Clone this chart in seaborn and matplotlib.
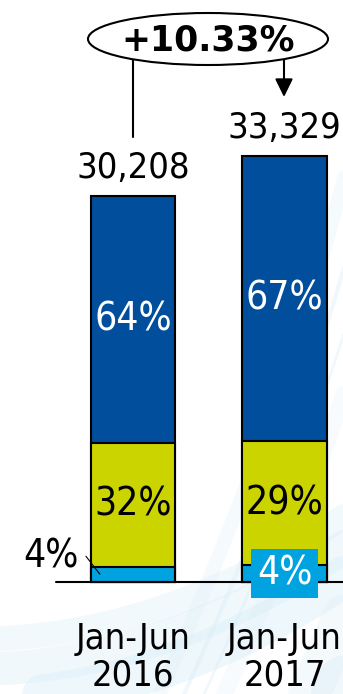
import numpy as np
import pandas as pd
import seaborn as sns
import matplotlib.pyplot as plt
from matplotlib.patches import Ellipse

# Half-year totals and their composition (shares in %)
periods = ["Jan-Jun\n2016", "Jan-Jun\n2017"]
totals = [30208, 33329]
share_blue = [64, 67]
share_yellow = [32, 29]
share_cyan = [4, 4]
growth_label = "+10.33%"

BLUE = "#004E9C"
YELLOW = "#CCD400"
CYAN = "#00A3E0"

sns.set_theme(style="white")
plt.rcParams["font.family"] = ["DejaVu Sans"]

df = pd.DataFrame({
    "period": periods,
    "total": totals,
    "blue": share_blue,
    "yellow": share_yellow,
    "cyan": share_cyan,
})
df["cyan_top"] = df["total"] * df["cyan"] / 100
df["yellow_top"] = df["total"] * (df["cyan"] + df["yellow"]) / 100

W, H = 343, 694
fig = plt.figure(figsize=(W / 100, H / 100), dpi=100)
fig.patch.set_facecolor("white")

# Pixel-space layer for the soft background sweeps
ov = fig.add_axes([0, 0, 1, 1], zorder=0)
ov.set_xlim(0, W)
ov.set_ylim(H, 0)
ov.axis("off")

t = np.linspace(0, 1, 200)
for x0, lw, a in [(150, 10, 0.2), (175, 3, 0.3), (195, 2, 0.3),
                  (215, 12, 0.15), (300, 30, 0.22), (330, 40, 0.28)]:
    xs = x0 + 260 * t - 60 * t ** 2
    ys = H + 20 - 560 * t
    ov.plot(xs, ys, color="#CFE8F5", lw=lw, alpha=a, solid_capstyle="round")
for y0, lw, a in [(640, 18, 0.3), (670, 24, 0.35), (700, 30, 0.4)]:
    xs = np.linspace(-10, W + 10, 200)
    ys = y0 - 0.0009 * (xs - 40) ** 2 - 40 * (xs / W)
    ov.plot(xs, ys, color="#D6ECF7", lw=lw, alpha=a)

ax = fig.add_axes([0, 0, 1, 1], zorder=1)
ax.patch.set_alpha(0)

bar_w = 0.555
edge = dict(edgecolor="black", linewidth=1.5, width=bar_w)
sns.barplot(data=df, x="period", y="total", color=BLUE, saturation=1, ax=ax, **edge)
sns.barplot(data=df, x="period", y="yellow_top", color=YELLOW, saturation=1, ax=ax, **edge)
sns.barplot(data=df, x="period", y="cyan_top", color=CYAN, saturation=1, ax=ax, **edge)

px = 151.5                      # pixels per category step
ypx = totals[0] / 386.0         # data units per pixel
ax.set_xlim(-133 / px, (W - 133) / px)
ax.set_ylim(-(H - 582) * ypx, 582 * ypx)
ax.axis("off")

# Baseline
ax.plot([-77 / px, (W - 133) / px], [0, 0], color="black", lw=1.5, zorder=5)

fs = 28
pt = 72 / 100  # points per pixel
txt = dict(ha="center", va="center", fontstretch="condensed")

for i, row in df.iterrows():
    # Total above bar
    ax.annotate(f"{row['total']:,}", (i, row["total"]), xytext=(0, 28 * pt),
                textcoords="offset points", color="black", fontsize=26, **txt)
    # Blue share
    ax.text(i, (row["yellow_top"] + row["total"]) / 2, f"{row['blue']}%",
            color="white", zorder=6, fontsize=fs, **txt)
    # Yellow share
    ax.text(i, (row["cyan_top"] + row["yellow_top"]) / 2, f"{row['yellow']}%",
            color="black", zorder=6, fontsize=fs, **txt)
    # Period labels
    ax.text(i, -(657 - 582) * ypx, row["period"], color="black",
            linespacing=1.1, fontsize=26, **txt)

# Cyan shares: left callout for the first bar, boxed label for the second
c0 = df.loc[0, "cyan_top"] / 2
tip = (-bar_w / 2 + 9 / px, c0)
ax.annotate("", xy=tip, xytext=(-14 * pt, 18 * pt), textcoords="offset points",
            arrowprops=dict(arrowstyle="-", lw=0.8, color="black",
                            shrinkA=0, shrinkB=0), zorder=6)
ax.annotate(f"{df.loc[0, 'cyan']}%", xy=tip, xytext=(-49 * pt, 18 * pt),
            textcoords="offset points", color="black", fontsize=fs, **txt)
c1 = df.loc[1, "cyan_top"] / 2
ax.text(1, c1, f"{df.loc[1, 'cyan']}%", color="white", zorder=7, fontsize=fs,
        bbox=dict(boxstyle="square,pad=0.14", fc=CYAN, ec="none"), **txt)

# Growth callout
top = fig.add_axes([0, 0, 1, 1], zorder=2)
top.set_xlim(0, W)
top.set_ylim(H, 0)
top.axis("off")
top.plot([133, 133], [55, 137], color="black", lw=1.5)
top.annotate("", xy=(284, 97), xytext=(284, 55),
             arrowprops=dict(arrowstyle="-|>,head_length=0.55,head_width=0.27",
                             mutation_scale=20, color="black", lw=1.5,
                             shrinkA=0, shrinkB=0))
top.add_patch(Ellipse((208, 39), 240, 52, fc="white", ec="black", lw=1.5, zorder=3))
top.text(208, 40, growth_label, ha="center", va="center", fontsize=25,
         fontweight="bold", color="black", zorder=4)

fig.savefig("out.png", dpi=100)
